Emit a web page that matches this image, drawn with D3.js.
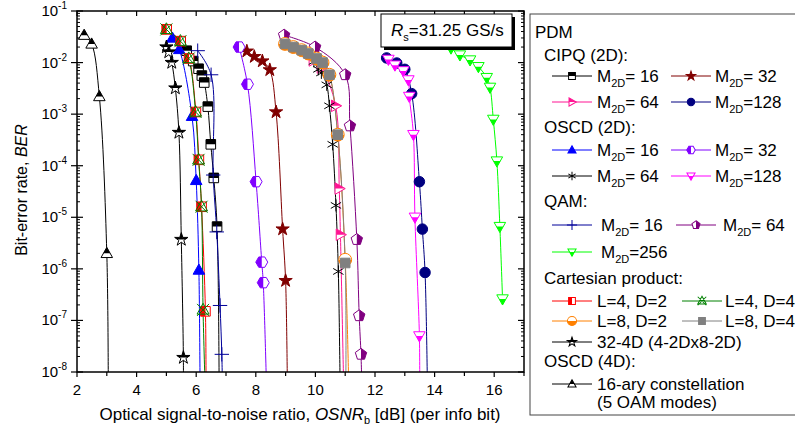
<!DOCTYPE html>
<html lang="en">
<head>
<meta charset="UTF-8">
<title>BER vs OSNR</title>
<script src="https://cdn.jsdelivr.net/npm/d3@7"></script>
<style>
body { margin: 0; background: #fff; }
text { font-family: "Liberation Sans", Arial, sans-serif; fill: #000; }
</style>
</head>
<body>
<script>
// measured points: [OSNR_b in dB, BER]
var cipq16 = [[5.68,1.7e-2],[5.90,1.07e-2],[6.08,7.6e-3],[6.19,5.6e-3],[6.27,4.1e-3],[6.39,1.4e-3],[6.49,2.6e-4],[6.59,5.8e-5],[6.70,6.6e-6]];
var cipq32 = [[7.70,1.66e-2],[7.95,1.3e-2],[8.22,1.07e-2],[8.47,7.2e-3],[8.68,1.1e-3],[8.90,5.9e-6],[9.00,5.9e-7]];
var cipq64 = [[9.93,1.1e-2],[10.2,8.0e-3],[10.68,1.45e-3],[10.80,3.6e-5],[10.84,4.6e-6]];
var cipq128 = [[12.39,1.23e-2],[12.73,9.8e-3],[13.0,7.4e-3],[13.23,2.5e-3],[13.49,4.9e-5],[13.59,5.9e-6],[13.68,8.5e-7]];
var oscd16 = [[5.20,3.0e-2],[5.43,1.8e-2],[5.86,9.1e-4],[6.00,5.2e-5],[6.09,9.5e-7]];
var oscd32 = [[7.44,2.0e-2],[7.72,3.8e-3],[8.01,4.9e-5],[8.20,1.35e-6],[8.25,5.4e-7]];
var oscd64 = [[9.95,1.05e-2],[10.1,7.4e-3],[10.2,6.3e-3],[10.38,3.7e-3],[10.47,1.45e-3],[10.58,2.6e-4],[10.69,1.7e-5],[10.77,8.9e-7]];
var oscd128 = [[12.45,1.15e-2],[12.67,8.9e-3],[12.95,6.9e-3],[13.12,4.6e-3],[13.15,2.2e-3],[13.29,4.0e-4],[13.34,1.0e-5],[13.49,5.0e-8]];
var qam16 = [[6.05,1.7e-2],[6.50,5.8e-3],[6.57,6.6e-5],[6.69,5.2e-6],[6.80,1.95e-7],[6.86,2.2e-8]];
var qam64 = [[8.95,3.4e-2],[9.99,2.0e-2],[11.0,5.8e-3],[11.16,5.9e-4],[11.39,3.7e-6],[11.47,1.23e-7],[11.53,2.2e-8]];
var qam256 = [[14.55,1.9e-2],[14.85,1.4e-2],[15.19,1.12e-2],[15.47,8.3e-3],[15.75,5.1e-3],[15.86,3.3e-3],[15.97,7.9e-4],[16.09,1.23e-4],[16.19,6.6e-6],[16.28,2.6e-7]];
var cartL4D2 = [[5.01,4.4e-2],[5.48,2.6e-2],[5.76,1.2e-2],[5.99,1.1e-3],[6.09,1.3e-4],[6.18,1.6e-5],[6.31,1.5e-7]];
var cartL4D4 = [[5.00,4.4e-2],[5.47,2.6e-2],[5.75,1.2e-2],[5.98,1.1e-3],[6.08,1.3e-4],[6.18,1.6e-5],[6.23,1.6e-7]];
var cartL8D2 = [[8.98,2.3e-2],[9.26,2.0e-2],[9.54,1.74e-2],[9.76,1.5e-2],[10.04,1.2e-2],[10.24,1.0e-2],[10.47,5.8e-3],[10.75,4.0e-4],[11.0,1.5e-6]];
var cartL8D4 = [[8.98,2.3e-2],[9.26,2.0e-2],[9.54,1.74e-2],[9.76,1.5e-2],[10.04,1.2e-2],[10.24,1.0e-2],[10.47,5.8e-3],[10.75,4.0e-4],[11.0,1.3e-6]];
var cart4D = [[5.00,2.0e-2],[5.08,1.6e-2],[5.18,1.0e-2],[5.30,3.2e-3],[5.42,4.4e-4],[5.50,3.7e-6],[5.57,1.9e-8]];
var oscd4D = [[2.24,3.4e-2],[2.49,2.3e-2],[2.75,2.2e-3],[3.00,2.0e-6]];

// OSNR where each fitted curve leaves the bottom of the frame (null = ends at last point)
var fitEnd = {cipq16: 6.77, cipq32: 9.06, cipq64: 10.95, cipq128: 13.76, oscd16: 6.13, oscd32: 8.36,
  oscd64: 10.83, oscd128: 13.50, qam16: 6.88, qam64: 11.56, qam256: null, cartL4D2: 6.33,
  cartL4D4: 6.30, cartL8D2: 11.12, cartL8D4: 11.02, cart4D: 5.57, oscd4D: 3.05};

var xTicks = [2, 4, 6, 8, 10, 12, 14, 16];
var yExps = [-1, -2, -3, -4, -5, -6, -7, -8];

var series = [
  {key: "cipq16", data: cipq16, color: "#000000", shape: "square", half: "top"},
  {key: "cipq32", data: cipq32, color: "#800000", shape: "star", half: "full"},
  {key: "cipq64", data: cipq64, color: "#ff1493", shape: "triRight", half: "top"},
  {key: "cipq128", data: cipq128, color: "#000080", shape: "circle", half: "full"},
  {key: "oscd16", data: oscd16, color: "#0000ff", shape: "triUp", half: "full"},
  {key: "oscd32", data: oscd32, color: "#8000ff", shape: "hex", half: "left"},
  {key: "oscd64", data: oscd64, color: "#000000", shape: "aster", half: "none"},
  {key: "oscd128", data: oscd128, color: "#ff00ff", shape: "triDown", half: "bottom"},
  {key: "qam16", data: qam16, color: "#000099", shape: "plus", half: "none"},
  {key: "qam64", data: qam64, color: "#800080", shape: "pent", half: "right"},
  {key: "qam256", data: qam256, color: "#00ff00", shape: "triDown", half: "bottom"},
  {key: "cartL4D2", data: cartL4D2, color: "#ff0000", shape: "square", half: "left"},
  {key: "cartL4D4", data: cartL4D4, color: "#008000", shape: "xtri", half: "none"},
  {key: "cartL8D2", data: cartL8D2, color: "#ff8000", shape: "bigCircle", half: "bottom"},
  {key: "cartL8D4", data: cartL8D4, color: "#808080", shape: "square", half: "full"},
  {key: "cart4D", data: cart4D, color: "#000000", shape: "star", half: "top"},
  {key: "oscd4D", data: oscd4D, color: "#000000", shape: "triUp", half: "top"}
];
var byKey = {};
series.forEach(function(s) { byKey[s.key] = s; });

var W = 795, H = 430;
var pLeft = 77, pRight = 524, pTop = 11, pBottom = 372;

var svg = d3.select("body").append("svg").attr("width", W).attr("height", H);

var x = d3.scaleLinear().domain([2, 17]).range([pLeft, pRight]);
var y = d3.scaleLog().domain([1e-8, 1e-1]).range([pBottom, pTop]);

var defs = svg.append("defs");
defs.append("clipPath").attr("id", "plotClip").append("rect")
    .attr("x", pLeft).attr("y", pTop).attr("width", pRight - pLeft).attr("height", pBottom - pTop);
var halves = {top: [-10, -10, 20, 10], bottom: [-10, 0, 20, 10], left: [-10, -10, 10, 20], right: [0, -10, 10, 20]};
Object.keys(halves).forEach(function(k) {
  var r = halves[k];
  defs.append("clipPath").attr("id", "half-" + k).append("rect")
      .attr("x", r[0]).attr("y", r[1]).attr("width", r[2]).attr("height", r[3]);
});

function polyPath(n, r, rot) {
  var pts = d3.range(n).map(function(i) {
    var a = rot + i * 2 * Math.PI / n;
    return [r * Math.cos(a), r * Math.sin(a)];
  });
  return "M" + pts.join("L") + "Z";
}

function shapePath(shape) {
  switch (shape) {
    case "square": return "M-4,-4H4V4H-4Z";
    case "triUp": return "M0,-5L4.8,3.5L-4.8,3.5Z";
    case "triDown": return "M0,5L4.8,-3.5L-4.8,-3.5Z";
    case "triRight": return "M5,0L-3.5,4.8L-3.5,-4.8Z";
    case "circle": return d3.symbol(d3.symbolCircle, 60)();
    case "bigCircle": return d3.symbol(d3.symbolCircle, 90)();
    case "hex": return polyPath(6, 5, 0);
    case "pent": return polyPath(5, 5, -Math.PI / 2);
    case "star": return d3.symbol(d3.symbolStar, 38)();
  }
  return null;
}

function drawMarker(g, s, cx, cy, k) {
  var sw = 1 / k;
  var m = g.append("g").attr("transform", "translate(" + cx + "," + cy + ") scale(" + k + ")");
  if (s.shape === "plus") {
    m.append("path").attr("d", "M-6,0H6M0,-6V6").attr("stroke", s.color).attr("stroke-width", sw).attr("fill", "none");
    return;
  }
  if (s.shape === "aster") {
    m.append("path").attr("d", "M0,-5V5M-4.3,-2.5L4.3,2.5M-4.3,2.5L4.3,-2.5")
        .attr("stroke", s.color).attr("stroke-width", sw).attr("fill", "none");
    return;
  }
  if (s.shape === "xtri") {
    m.append("path").attr("d", "M-5,-5L5,5M-5,5L5,-5M0,-5.5L5,3.5H-5Z")
        .attr("stroke", s.color).attr("stroke-width", sw).attr("fill", "none");
    return;
  }
  var d = shapePath(s.shape);
  m.append("path").attr("d", d).attr("fill", s.half === "full" ? s.color : "#fff")
      .attr("stroke", s.color).attr("stroke-width", sw);
  if (s.half !== "full" && s.half !== "none") {
    m.append("path").attr("d", d).attr("fill", s.color).attr("clip-path", "url(#half-" + s.half + ")");
  }
}

// curves
var line = d3.line().x(function(d) { return x(d[0]); }).y(function(d) { return y(d[1]); })
    .curve(d3.curveCatmullRom.alpha(0.5));
var plot = svg.append("g").attr("clip-path", "url(#plotClip)");
series.forEach(function(s) {
  var pts = s.data.slice();
  if (fitEnd[s.key] != null) pts.push([fitEnd[s.key], 5e-9]);
  plot.append("path").attr("d", line(pts)).attr("fill", "none")
      .attr("stroke", s.color).attr("stroke-width", 1);
});
series.forEach(function(s) {
  s.data.forEach(function(d) { drawMarker(plot, s, x(d[0]), y(d[1]), 1.2); });
});

// frame and ticks
var axes = svg.append("g").attr("stroke", "#000").attr("fill", "none");
axes.append("rect").attr("x", pLeft).attr("y", pTop).attr("width", pRight - pLeft).attr("height", pBottom - pTop)
    .attr("stroke-width", 1.5);
d3.range(2, 18).forEach(function(v) {
  var px = x(v), major = v % 2 === 0;
  axes.append("line").attr("x1", px).attr("x2", px).attr("y1", pBottom).attr("y2", pBottom + (major ? 5 : 4)).attr("stroke-width", 1.2);
  axes.append("line").attr("x1", px).attr("x2", px).attr("y1", pTop).attr("y2", pTop + (major ? 5 : 4)).attr("stroke-width", 1.2);
});
yExps.forEach(function(e) {
  var py = y(Math.pow(10, e));
  axes.append("line").attr("x1", pLeft - 6).attr("x2", pLeft + 6).attr("y1", py).attr("y2", py).attr("stroke-width", 1.2);
  axes.append("line").attr("x1", pRight - 6).attr("x2", pRight).attr("y1", py).attr("y2", py).attr("stroke-width", 1.2);
  d3.range(2, 10).forEach(function(k) {
    var v = k * Math.pow(10, e);
    if (v > 0.1) return;
    var pm = y(v);
    axes.append("line").attr("x1", pLeft).attr("x2", pLeft + 3).attr("y1", pm).attr("y2", pm).attr("stroke-width", 1);
    axes.append("line").attr("x1", pRight - 3).attr("x2", pRight).attr("y1", pm).attr("y2", pm).attr("stroke-width", 1);
  });
});

var xl = svg.append("g").attr("font-size", 15).attr("text-anchor", "middle");
xTicks.forEach(function(v) {
  xl.append("text").attr("x", x(v)).attr("y", pBottom + 23).text(v);
});
var yl = svg.append("g").attr("font-size", 15).attr("text-anchor", "end");
yExps.forEach(function(e) {
  var t = yl.append("text").attr("x", 67).attr("y", y(Math.pow(10, e)) + 5);
  t.append("tspan").text("10");
  t.append("tspan").attr("font-size", 10).attr("dy", -7).text(String(e));
});

// axis titles
var xt = svg.append("text").attr("x", 300).attr("y", 420).attr("font-size", 17).attr("text-anchor", "middle");
xt.append("tspan").text("Optical signal-to-noise ratio, ");
xt.append("tspan").attr("font-style", "italic").text("OSNR");
xt.append("tspan").attr("font-size", 11).attr("dy", 4).text("b");
xt.append("tspan").attr("dy", -4).text(" [dB] (per info bit)");

var yt = svg.append("text").attr("transform", "translate(27,190) rotate(-90)").attr("font-size", 16)
    .attr("text-anchor", "middle");
yt.append("tspan").text("Bit-error rate, ");
yt.append("tspan").attr("font-style", "italic").text("BER");

// symbol rate box
svg.append("rect").attr("x", 384).attr("y", 17).attr("width", 131).attr("height", 33).attr("fill", "#000");
svg.append("rect").attr("x", 381).attr("y", 14).attr("width", 131).attr("height", 33)
    .attr("fill", "#fff").attr("stroke", "#000").attr("stroke-width", 1);
var rs = svg.append("text").attr("x", 391).attr("y", 36).attr("font-size", 17);
rs.append("tspan").attr("font-style", "italic").text("R");
rs.append("tspan").attr("font-size", 11).attr("dy", 5).text("s");
rs.append("tspan").attr("dy", -5).text("=31.25 GS/s");

// legend
svg.append("rect").attr("x", 530).attr("y", 14).attr("width", 280).attr("height", 401)
    .attr("fill", "#fff").attr("stroke", "#444").attr("stroke-width", 1);
var heads = [["PDM", 535, 38], ["CIPQ (2D):", 544, 61], ["OSCD (2D):", 544, 133], ["QAM:", 544, 207],
  ["Cartesian product:", 544, 284], ["OSCD (4D):", 544, 367]];
var lg = svg.append("g").attr("font-size", 17);
heads.forEach(function(h) { lg.append("text").attr("x", h[1]).attr("y", h[2]).text(h[0]); });

var legendRows = [
  {y: 76, items: [["cipq16", 552, 597, "16"], ["cipq32", 671, 715, "32"]]},
  {y: 102, items: [["cipq64", 552, 597, "64"], ["cipq128", 671, 715, "=128"]]},
  {y: 150, items: [["oscd16", 552, 597, "16"], ["oscd32", 671, 715, "32"]]},
  {y: 176, items: [["oscd64", 552, 597, "64"], ["oscd128", 671, 715, "=128"]]},
  {y: 225, items: [["qam16", 552, 601, "16"], ["qam64", 676, 723, "64"]]},
  {y: 252, items: [["qam256", 552, 601, "=256"]]},
  {y: 301, items: [["cartL4D2", 552, 597, "L=4, D=2"], ["cartL4D4", 682, 725, "L=4, D=4"]]},
  {y: 321, items: [["cartL8D2", 552, 597, "L=8, D=2"], ["cartL8D4", 682, 725, "L=8, D=4"]]},
  {y: 342, items: [["cart4D", 552, 597, "32-4D (4-2Dx8-2D)"]]},
  {y: 384, items: [["oscd4D", 552, 597, "16-ary constellation"]]}
];
legendRows.forEach(function(r) {
  r.items.forEach(function(it) {
    var s = byKey[it[0]], x0 = it[1];
    lg.append("line").attr("x1", x0).attr("x2", x0 + 40).attr("y1", r.y).attr("y2", r.y)
        .attr("stroke", s.color).attr("stroke-width", 1);
    drawMarker(lg, s, x0 + 20, r.y, 0.85);
    var t = lg.append("text").attr("x", it[2]).attr("y", r.y + 6);
    if (it[0].indexOf("cart") === 0 || it[0] === "oscd4D") {
      t.text(it[3]);
    } else {
      t.append("tspan").text("M");
      t.append("tspan").attr("font-size", 11).attr("dy", 5).text("2D");
      t.append("tspan").attr("dy", -5).text(it[3].charAt(0) === "=" ? it[3] : "= " + it[3]);
    }
  });
});
lg.append("text").attr("x", 597).attr("y", 408).text("(5 OAM modes)");
</script>
</body>
</html>
